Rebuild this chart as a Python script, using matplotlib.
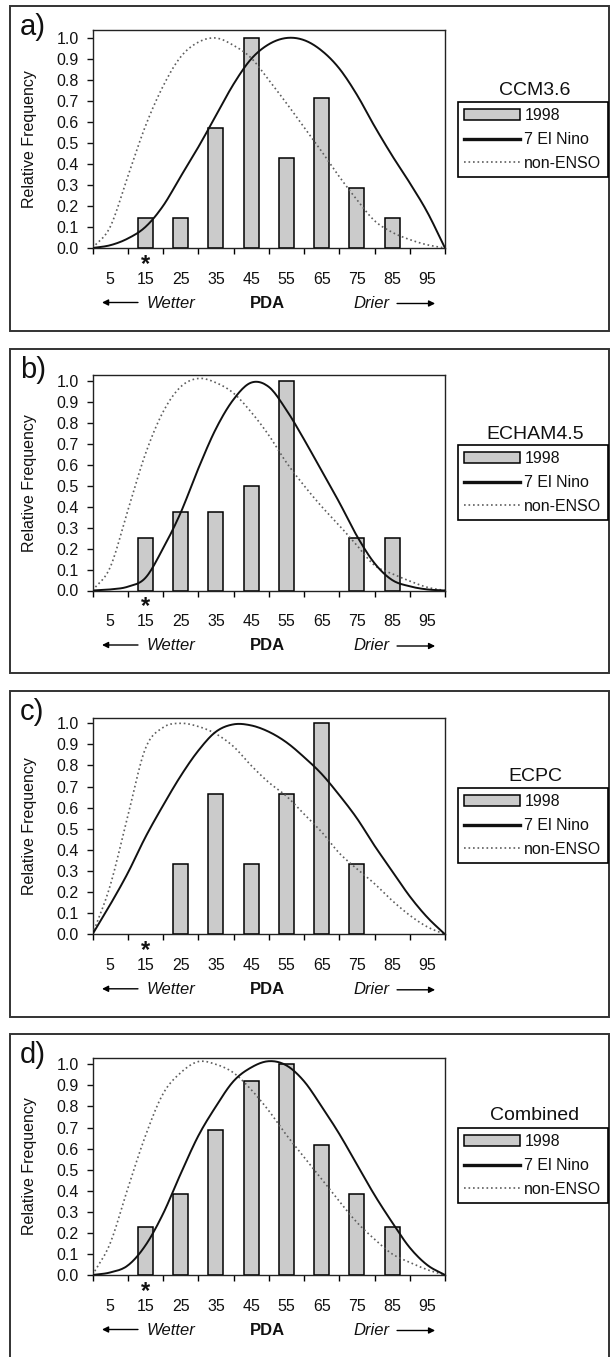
import numpy as np
import matplotlib
matplotlib.use('Agg')
import matplotlib.pyplot as plt
from matplotlib.patches import Rectangle, Patch
from matplotlib.lines import Line2D
from matplotlib.transforms import ScaledTranslation

plt.rcParams['font.family'] = ['Liberation Sans', 'DejaVu Sans']

W, H = 612, 1357
DPI = 100

# ---------------- data ----------------
categories = [5, 15, 25, 35, 45, 55, 65, 75, 85, 95]
tick_edges = [0, 10, 20, 30, 40, 50, 60, 70, 80, 90, 100]
y_ticks = [0.0, 0.1, 0.2, 0.3, 0.4, 0.5, 0.6, 0.7, 0.8, 0.9, 1.0]
curve_x = [0, 5, 10, 15, 20, 25, 30, 35, 40, 45, 50, 55, 60, 65, 70, 75, 80, 85, 90, 95, 100]

model_names = ['CCM3.6', 'ECHAM4.5', 'ECPC', 'Combined']
panel_letters = ['a)', 'b)', 'c)', 'd)']

bars_ccm = [0, 0.143, 0.143, 0.571, 1.0, 0.429, 0.714, 0.286, 0.143, 0]
bars_echam = [0, 0.25, 0.375, 0.375, 0.5, 1.0, 0, 0.25, 0.25, 0]
bars_ecpc = [0, 0, 0.333, 0.667, 0.333, 0.667, 1.0, 0.333, 0, 0]
bars_comb = [0, 0.23, 0.385, 0.69, 0.923, 1.0, 0.615, 0.385, 0.23, 0]

elnino_ccm = [0, 0.013, 0.045, 0.10, 0.20, 0.34, 0.48, 0.63, 0.78, 0.90, 0.97,
              1.0, 0.99, 0.94, 0.855, 0.73, 0.58, 0.44, 0.31, 0.17, 0.0]
nonenso_ccm = [0, 0.10, 0.34, 0.58, 0.77, 0.91, 0.98, 1.0, 0.965, 0.905, 0.80,
               0.69, 0.575, 0.46, 0.34, 0.23, 0.13, 0.075, 0.04, 0.015, 0.0]

elnino_echam = [0, 0.005, 0.018, 0.06, 0.20, 0.37, 0.58, 0.77, 0.91, 0.99, 0.97,
                0.86, 0.72, 0.57, 0.42, 0.26, 0.13, 0.05, 0.02, 0.005, 0.0]
nonenso_echam = [0, 0.11, 0.38, 0.65, 0.85, 0.97, 1.01, 0.99, 0.94, 0.85, 0.74,
                 0.61, 0.50, 0.40, 0.31, 0.215, 0.12, 0.08, 0.045, 0.015, 0.0]

elnino_ecpc = [0, 0.14, 0.29, 0.46, 0.61, 0.75, 0.87, 0.96, 0.995, 0.99, 0.96,
               0.91, 0.84, 0.76, 0.66, 0.55, 0.42, 0.30, 0.18, 0.08, 0.0]
nonenso_ecpc = [0, 0.23, 0.56, 0.88, 0.98, 1.0, 0.985, 0.95, 0.89, 0.80, 0.72,
                0.655, 0.57, 0.485, 0.385, 0.31, 0.24, 0.16, 0.09, 0.035, 0.0]

elnino_comb = [0, 0.012, 0.045, 0.14, 0.29, 0.48, 0.66, 0.80, 0.92, 0.985, 1.015,
               0.995, 0.92, 0.80, 0.67, 0.525, 0.38, 0.25, 0.13, 0.047, 0.0]
nonenso_comb = [0, 0.15, 0.41, 0.66, 0.86, 0.96, 1.013, 1.0, 0.96, 0.88, 0.78,
                0.665, 0.56, 0.455, 0.35, 0.25, 0.17, 0.10, 0.06, 0.025, 0.0]

legend_labels = ['1998', '7 El Nino', 'non-ENSO']

bars_all = [bars_ccm, bars_echam, bars_ecpc, bars_comb]
elnino_all = [elnino_ccm, elnino_echam, elnino_ecpc, elnino_comb]
nonenso_all = [nonenso_ccm, nonenso_echam, nonenso_ecpc, nonenso_comb]

# ---------------- layout (pixels) ----------------
layouts = [
    dict(box=(10, 6, 609, 330.5), ax_bottom=248, ax_top=29.6, ytop=1.04, title_y=95, leg_top=102),
    dict(box=(10, 349, 609, 673), ax_bottom=590.5, ax_top=375.3, ytop=1.025, title_y=439, leg_top=445),
    dict(box=(10, 691, 609, 1017), ax_bottom=934.3, ax_top=717.6, ytop=1.027, title_y=781, leg_top=788),
    dict(box=(10, 1034, 609, 1362), ax_bottom=1275, ax_top=1057.6, ytop=1.032, title_y=1120, leg_top=1128),
]
AX_LEFT, AX_RIGHT = 92.5, 445


def smooth(x, y, n=12):
    x = np.asarray(x, float)
    y = np.asarray(y, float)
    px = np.concatenate([[2 * x[0] - x[1]], x, [2 * x[-1] - x[-2]]])
    py = np.concatenate([[2 * y[0] - y[1]], y, [2 * y[-1] - y[-2]]])
    xs, ys = [], []
    t = np.linspace(0, 1, n, endpoint=False)
    for i in range(1, len(px) - 2):
        for arr, out in ((px, xs), (py, ys)):
            p0, p1, p2, p3 = arr[i - 1], arr[i], arr[i + 1], arr[i + 2]
            out.extend(0.5 * (2 * p1 + (-p0 + p2) * t + (2 * p0 - 5 * p1 + 4 * p2 - p3) * t ** 2
                              + (-p0 + 3 * p1 - 3 * p2 + p3) * t ** 3))
    xs.append(x[-1])
    ys.append(y[-1])
    return np.array(xs), np.clip(np.array(ys), 0, None)


fig = plt.figure(figsize=(W / DPI, H / DPI), dpi=DPI)

BAR_COLOR = '#cbcbcb'
DOT_COLOR = '#5e5e5e'
TXT = '#111111'

for k in range(4):
    L = layouts[k]
    bl, bt, br, bb = L['box']
    fig.patches.append(Rectangle((bl / W, 1 - bb / H), (br - bl) / W, (bb - bt) / H,
                                 transform=fig.transFigure, fill=False, lw=1.4,
                                 edgecolor='#333333', zorder=0))
    fig.text(20 / W, 1 - (bt + 29) / H, panel_letters[k], fontsize=21, va='baseline',
             ha='left', color=TXT)

    ax = fig.add_axes([AX_LEFT / W, 1 - L['ax_bottom'] / H, (AX_RIGHT - AX_LEFT) / W,
                       (L['ax_bottom'] - L['ax_top']) / H])
    ax.set_xlim(0, 100)
    ax.set_ylim(0, L['ytop'])

    vals = bars_all[k]
    bx = [c for c, v in zip(categories, vals) if v > 0]
    bv = [v for v in vals if v > 0]
    ax.bar(bx, bv, width=4.3, color=BAR_COLOR, edgecolor='black', linewidth=1.1, zorder=2)
    sx, sy = smooth(curve_x, nonenso_all[k])
    ax.plot(sx, sy, color=DOT_COLOR, lw=1.2, linestyle=(0, (1, 1.7)), zorder=3)
    sx, sy = smooth(curve_x, elnino_all[k])
    ax.plot(sx, sy, color='#111111', lw=1.4, zorder=4)

    for s in ax.spines.values():
        s.set_linewidth(1.0)
        s.set_color('#222222')

    ax.set_yticks(y_ticks)
    ax.set_yticklabels([f'{v:.1f}' for v in y_ticks])
    ax.set_xticks(tick_edges)
    ax.set_xticklabels([])
    ax.set_xticks(categories, minor=True)
    ax.set_xticklabels([str(c) for c in categories], minor=True)
    ax.tick_params(axis='y', direction='out', length=4.5, width=1, labelsize=11.5,
                   pad=5.5, colors=TXT)
    ax.tick_params(axis='x', which='major', direction='out', length=4, width=1)
    ax.tick_params(axis='x', which='minor', length=0, labelsize=11.5, pad=17, colors=TXT)

    ax.set_ylabel('Relative Frequency', fontsize=11.5, color=TXT)
    ax.yaxis.set_label_coords((37 - AX_LEFT) / (AX_RIGHT - AX_LEFT), 0.5)

    def below(dpx):
        return ax.get_xaxis_transform() + ScaledTranslation(0, -dpx / DPI, fig.dpi_scale_trans)

    # asterisk under 15
    ax.text(15, 0, '*', transform=below(23), fontsize=17, fontweight='bold', ha='center',
            va='baseline', color=TXT, clip_on=False)
    # direction annotations
    ax.text(15.4, 0, 'Wetter', transform=below(60), fontsize=12, style='italic',
            ha='left', va='baseline', color=TXT)
    ax.text(49.5, 0, 'PDA', transform=below(60), fontsize=12, fontweight='bold',
            ha='center', va='baseline', color=TXT)
    ax.text(73.9, 0, 'Drier', transform=below(60), fontsize=12, style='italic',
            ha='left', va='baseline', color=TXT)
    ax.annotate('', xy=(2.7, 0), xycoords=below(54.5), xytext=(12.9, 0), textcoords=below(54.5),
                arrowprops=dict(arrowstyle='-|>', lw=1.0, color='black', mutation_scale=9,
                                shrinkA=0, shrinkB=0), annotation_clip=False)
    ax.annotate('', xy=(97.2, 0), xycoords=below(55.5), xytext=(86.4, 0), textcoords=below(55.5),
                arrowprops=dict(arrowstyle='-|>', lw=1.0, color='black', mutation_scale=9,
                                shrinkA=0, shrinkB=0), annotation_clip=False)

    # legend
    fig.text(535 / W, 1 - L['title_y'] / H, model_names[k], fontsize=14, ha='center',
             va='baseline', color=TXT)
    handles = [Patch(facecolor=BAR_COLOR, edgecolor='black', linewidth=1.1),
               Line2D([], [], color='#111111', lw=2.4),
               Line2D([], [], color=DOT_COLOR, lw=1.2, linestyle=(0, (1, 1.7)))]
    leg = fig.legend(handles, legend_labels, loc='upper left',
                     bbox_to_anchor=(458 / W, 1 - L['leg_top'] / H),
                     bbox_transform=fig.transFigure, fontsize=11.5, frameon=True,
                     fancybox=False, framealpha=1, edgecolor='black', borderpad=0.4,
                     handlelength=3.5, handletextpad=0.25, labelspacing=0.55,
                     borderaxespad=0)
    leg.get_frame().set_linewidth(1.2)
    for t in leg.get_texts():
        t.set_color(TXT)

fig.savefig('out.png', dpi=DPI)
